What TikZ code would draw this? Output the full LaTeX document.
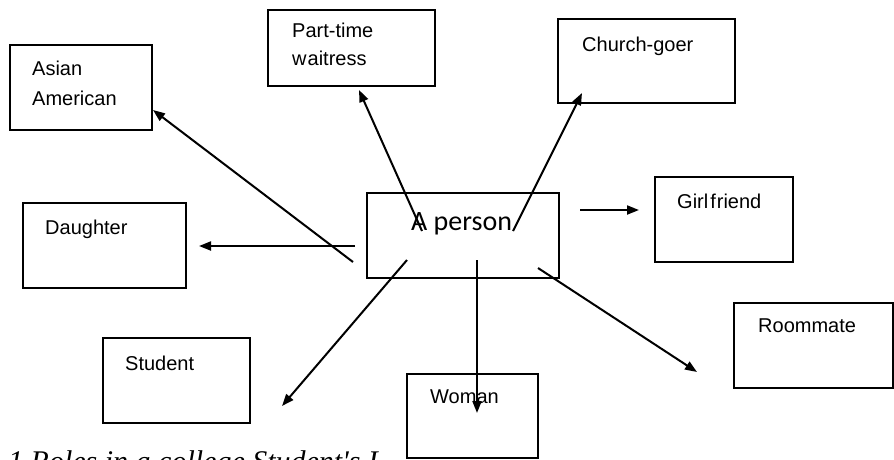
\documentclass[tikz,border=0pt]{standalone}
\usepackage{fontspec}
\setmainfont{Liberation Sans}
\newfontfamily\capfont{Liberation Serif}
\newfontfamily\perfont{Carlito}
\usetikzlibrary{arrows.meta}
\tikzset{
  box/.style={draw=black, line width=2pt, fill=white, rectangle, inner sep=0pt},
  lbl/.style={anchor=base west, inner sep=0pt, font=\fontsize{20}{24}\selectfont},
  conn/.style={line width=2pt, -{Triangle[length=12pt,width=9pt]}},
}
\begin{document}
\begin{tikzpicture}[x=1pt,y=-1pt]
\useasboundingbox (0,0) rectangle (894,459);
% caption (partly hidden, as in the reference)
\node[anchor=base west, inner sep=0pt, font=\capfont\itshape\fontsize{30}{36}\selectfont] (cap) at (8,471) {1 Roles in a college Student's I};
% boxes
\node[box, minimum width=142pt, minimum height=85pt] (asian) at (81,87.5) {};
\node[box, minimum width=167pt, minimum height=76pt] (part) at (351.5,48) {};
\node[box, minimum width=177pt, minimum height=84pt] (church) at (646.5,61) {};
\node[box, minimum width=138pt, minimum height=85pt] (girl) at (724,219.5) {};
\node[box, minimum width=163pt, minimum height=85pt] (daughter) at (104.5,245.5) {};
\node[box, minimum width=147pt, minimum height=85pt] (student) at (176.5,380.5) {};
\node[box, minimum width=159pt, minimum height=85pt] (room) at (813.5,345.5) {};
\node[box, minimum width=131pt, minimum height=84pt] (woman) at (472.5,416) {};
\node[box, minimum width=192pt, minimum height=85pt] (person) at (463,235.5) {};
% labels
\node[lbl] (tasian1) at (32,75) {Asian};
\node[lbl] (tasian2) at (32,105) {American};
\node[lbl] (tpart1) at (292,37) {Part-time};
\node[lbl] (tpart2) at (292,65) {w\kern1pt aitress};
\node[lbl] (tchurch) at (582,51) {Church-goer};
\node[lbl] (tgirl) at (677,208) {Girl\kern2pt f\kern1pt riend};
\node[lbl] (tdaughter) at (45,234) {Daughter};
\node[lbl] (tstudent) at (125,370) {Student};
\node[lbl] (troom) at (758,332) {Roommate};
\node[lbl] (twoman) at (430,403) {Woman};
\node[anchor=base west, inner sep=0pt, font=\perfont\fontsize{28}{32}\selectfont] (tperson) at (411,230) {A person};
% connector end points
\coordinate (sAsian) at (353,262);   \coordinate (eAsian) at (153,110);
\coordinate (sPart) at (422,231);    \coordinate (ePart) at (359,90);
\coordinate (sChurch) at (513,231);  \coordinate (eChurch) at (582,93);
\coordinate (sGirl) at (580,210);    \coordinate (eGirl) at (639,210);
\coordinate (sDau) at (355,246);     \coordinate (eDau) at (199,246);
\coordinate (sStu) at (407,260);     \coordinate (eStu) at (282,406);
\coordinate (sWom) at (477,260);     \coordinate (eWom) at (477,413);
\coordinate (sRoom) at (538,268);    \coordinate (eRoom) at (697,372);
% connectors
\draw[conn] (sAsian) -- (eAsian);
\draw[conn] (sPart) -- (ePart);
\draw[conn] (sChurch) -- (eChurch);
\draw[conn] (sGirl) -- (eGirl);
\draw[conn] (sDau) -- (eDau);
\draw[conn] (sStu) -- (eStu);
\draw[conn] (sWom) -- (eWom);
\draw[conn] (sRoom) -- (eRoom);
\end{tikzpicture}
\end{document}
